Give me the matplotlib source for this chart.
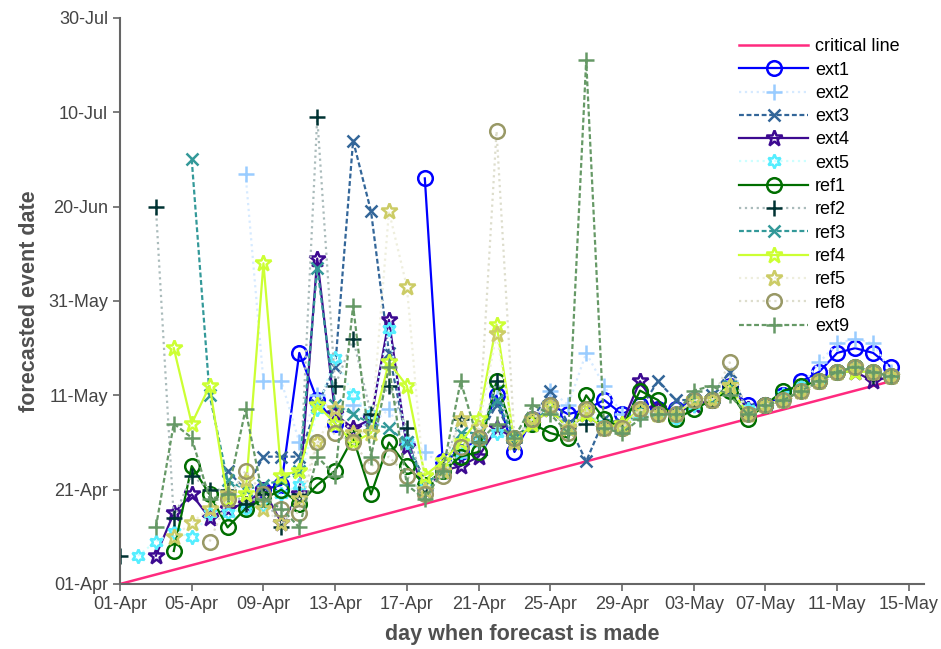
import numpy as np
import matplotlib
matplotlib.use("Agg")
import matplotlib.pyplot as plt
import matplotlib.dates as mdates

nan = np.nan

# Day when the forecast is made, as days after 01-Apr
forecast_day = np.arange(0, 44)

# Forecasted event dates, as days after 01-Apr (nan = no forecast that day)
ext1 = [nan, nan, nan, nan, nan, nan, nan, nan, 20, 21, 49, 39, 34, nan, nan, nan, nan, 86, 26, 28, 31, 40,
        28, 35, 38, 36, 37, 39, 36, 38, 37, 37, 39, 39, 42, 38, 38, 40, 43, 45, 49, 50, 49, 46]
ext2 = [nan, nan, nan, nan, nan, nan, nan, 87, 43, 43, 30, 40, 36, 38, 34, 37, 30, 28, 25, 27, 31, 42,
        30, 34, 41, 38, 49, 42, 36, 37, 36, 36, 38, 39, 43, 37, 38, 40, 42, 47, 51, 52, 51, 45]
ext3 = [nan, nan, nan, nan, nan, nan, 24, 20, 27, 27, 27, 38, 46, 94, 79, 49, 30, 22, 25, 29, 31, 38,
        30, 35, 41, 34, 26, 35, 34, 37, 43, 39, 39, 40, 45, 37, 38, 39, 41, 43, 45, 46, 45, 44]
ext4 = [nan, nan, 6, 15, 19, 14, 16, 17, 20, 13, 19, 69, 36, 33, 35, 56, 29, 20, 24, 25, 27, 33,
        31, 34, 37, 33, 36, 33, 34, 43, 37, 36, 38, 39, 42, 37, 38, 39, 41, 43, 45, 45, 43, 44]
ext5 = [nan, 6, 9, 11, 10, 15, 15, 16, 17, 19, 21, 37, 48, 40, 36, 54, 30, 21, 24, 28, 30, 32,
        31, 35, 37, 33, 36, 34, 33, 36, 36, 35, 38, 39, 42, 37, 38, 40, 42, 43, 45, 46, 45, 44]
ref1 = [nan, nan, nan, 7, 25, 19, 12, 16, 18, 20, 17, 21, 24, 31, 19, 30, 25, 21, 24, 27, 28, 43,
        31, 34, 32, 31, 40, 35, 33, 41, 39, 35, 37, 39, 41, 35, 38, 41, 42, 43, 45, 46, 45, 44]
ref2 = [6, nan, 80, 14, 23, 20, 20, 17, 19, 12, 19, 99, 42, 52, 36, 42, 33, 20, 25, 35, 30, 43,
        30, 35, 38, 33, 34, 34, 33, 37, 36, 36, 39, 39, 42, 36, 38, 39, 41, 43, 45, 46, 44, 44]
ref3 = [nan, nan, nan, nan, 90, 40, 22, 20, 21, 22, 24, 67, 38, 36, 34, 33, 30, 21, 24, 32, 32, 39,
        31, 34, 38, 33, 36, 33, 33, 37, 36, 36, 39, 39, 42, 36, 38, 39, 41, 43, 45, 46, 45, 44]
ref4 = [nan, nan, nan, 50, 34, 42, 18, 19, 68, 23, 24, 38, 34, 30, 32, 47, 42, 23, 26, 30, 35, 55,
        30, 34, 37, 33, 36, 33, 34, 37, 36, 36, 39, 39, 42, 36, 38, 39, 41, 43, 45, 45, 45, 44]
ref5 = [nan, nan, nan, 10, 13, 16, 19, 22, 16, 13, 18, 30, 37, 32, 32, 79, 63, 20, 24, 35, 33, 53,
        30, 35, 38, 33, 37, 33, 33, 37, 36, 36, 39, 39, 42, 36, 38, 39, 41, 43, 45, 46, 45, 44]
ref8 = [nan, nan, nan, nan, nan, 9, 18, 24, 19, 16, 15, 30, 32, 30, 25, 27, 23, 19, 23, 29, 31, 96,
        31, 35, 38, 32, 37, 33, 33, 37, 36, 36, 39, 39, 47, 36, 38, 39, 41, 43, 45, 46, 45, 44]
ext9 = [nan, nan, 12, 34, 31, 18, 19, 37, 18, 16, 12, 27, 23, 59, 27, 46, 21, 18, 24, 43, 30, 34,
        31, 38, 36, 32, 111, 33, 32, 35, 36, 36, 41, 42, 40, 36, 38, 39, 41, 43, 45, 46, 45, 44]

series_names = ["ext1", "ext2", "ext3", "ext4", "ext5", "ref1", "ref2", "ref3",
                "ref4", "ref5", "ref8", "ext9"]
series_values = [ext1, ext2, ext3, ext4, ext5, ref1, ref2, ref3, ref4, ref5, ref8, ext9]

# critical line: forecast date equals the day it is made
critical_days = [0, 43]

start = np.datetime64("2013-04-01")


def to_date(days):
    return start + np.array(days, dtype=float).round().astype("timedelta64[D]")


# (line colour, marker colour, linestyle, marker, marker size)
dash = (0, (2.2, 1.2))
styles = {
    "ext1": ("#0000ff", "#0000ff", "-", "o", 10.5),
    "ext2": ("#d6eaff", "#99ccff", ":", "+", 11),
    "ext3": ("#336699", "#336699", dash, "x", 8),
    "ext4": ("#3d0a91", "#3d0a91", "-", "*", 12),
    "ext5": ("#ccffff", "#55eeff", ":", (6, 1, 0), 10),
    "ref1": ("#006e00", "#006e00", "-", "o", 10.5),
    "ref2": ("#aabbbb", "#003333", ":", "+", 11),
    "ref3": ("#339999", "#339999", dash, "x", 8),
    "ref4": ("#ccff33", "#ccff33", "-", "*", 12),
    "ref5": ("#eeeedd", "#cccc66", ":", "*", 12),
    "ref8": ("#ddddcc", "#999966", ":", "o", 10.5),
    "ext9": ("#669966", "#669966", dash, "+", 11),
}

plt.rcParams["font.family"] = ["Liberation Sans", "DejaVu Sans"]

fig = plt.figure(figsize=(9.41, 6.49), dpi=100)
ax = fig.add_axes([120 / 941, 1 - 584 / 649, (924 - 120) / 941, (584 - 18) / 649])

ax.plot(to_date(critical_days), to_date(critical_days), color="#ff2a7f", lw=1.8,
        label="critical line")

x_dates = to_date(forecast_day)
for name, vals in zip(series_names, series_values):
    lc, mc, ls, mk, ms = styles[name]
    y = np.array(vals, dtype=float)
    y_dates = np.where(np.isnan(y), np.datetime64("NaT"), to_date(np.nan_to_num(y)))
    ax.plot(x_dates, y_dates.astype("datetime64[D]"), color=lc, ls=ls, lw=1.6,
            marker=mk, ms=ms, mec=mc, mfc="none", mew=1.8, label=name)

# Axes ranges and ticks
x0 = mdates.date2num(start)
ax.set_xlim(x0, x0 + 44.84)
ax.set_ylim(x0, x0 + 120)
ax.set_xticks(to_date(np.arange(0, 45, 4)))
ax.set_yticks(to_date(np.arange(0, 121, 20)))
fmt = mdates.DateFormatter("%d-%b")
ax.xaxis.set_major_formatter(fmt)
ax.yaxis.set_major_formatter(fmt)

for side in ["top", "right"]:
    ax.spines[side].set_visible(False)
for side in ["left", "bottom"]:
    ax.spines[side].set_color("#666666")
    ax.spines[side].set_linewidth(1.5)
ax.tick_params(direction="out", length=5, width=1.2, color="#666666",
               labelsize=13, labelcolor="#444444")

ax.set_xlabel("day when forecast is made", fontsize=15.5, fontweight="bold",
              color="#505050", labelpad=8)
ax.set_ylabel("forecasted event date", fontsize=15.5, fontweight="bold",
              color="#505050", labelpad=6)

ax.legend(loc="upper right", bbox_to_anchor=(0.99, 0.993), frameon=False, fontsize=13,
          labelspacing=0.35, handlelength=3.8, handletextpad=0.4)

plt.savefig("out.png", dpi=100)
plt.close()
